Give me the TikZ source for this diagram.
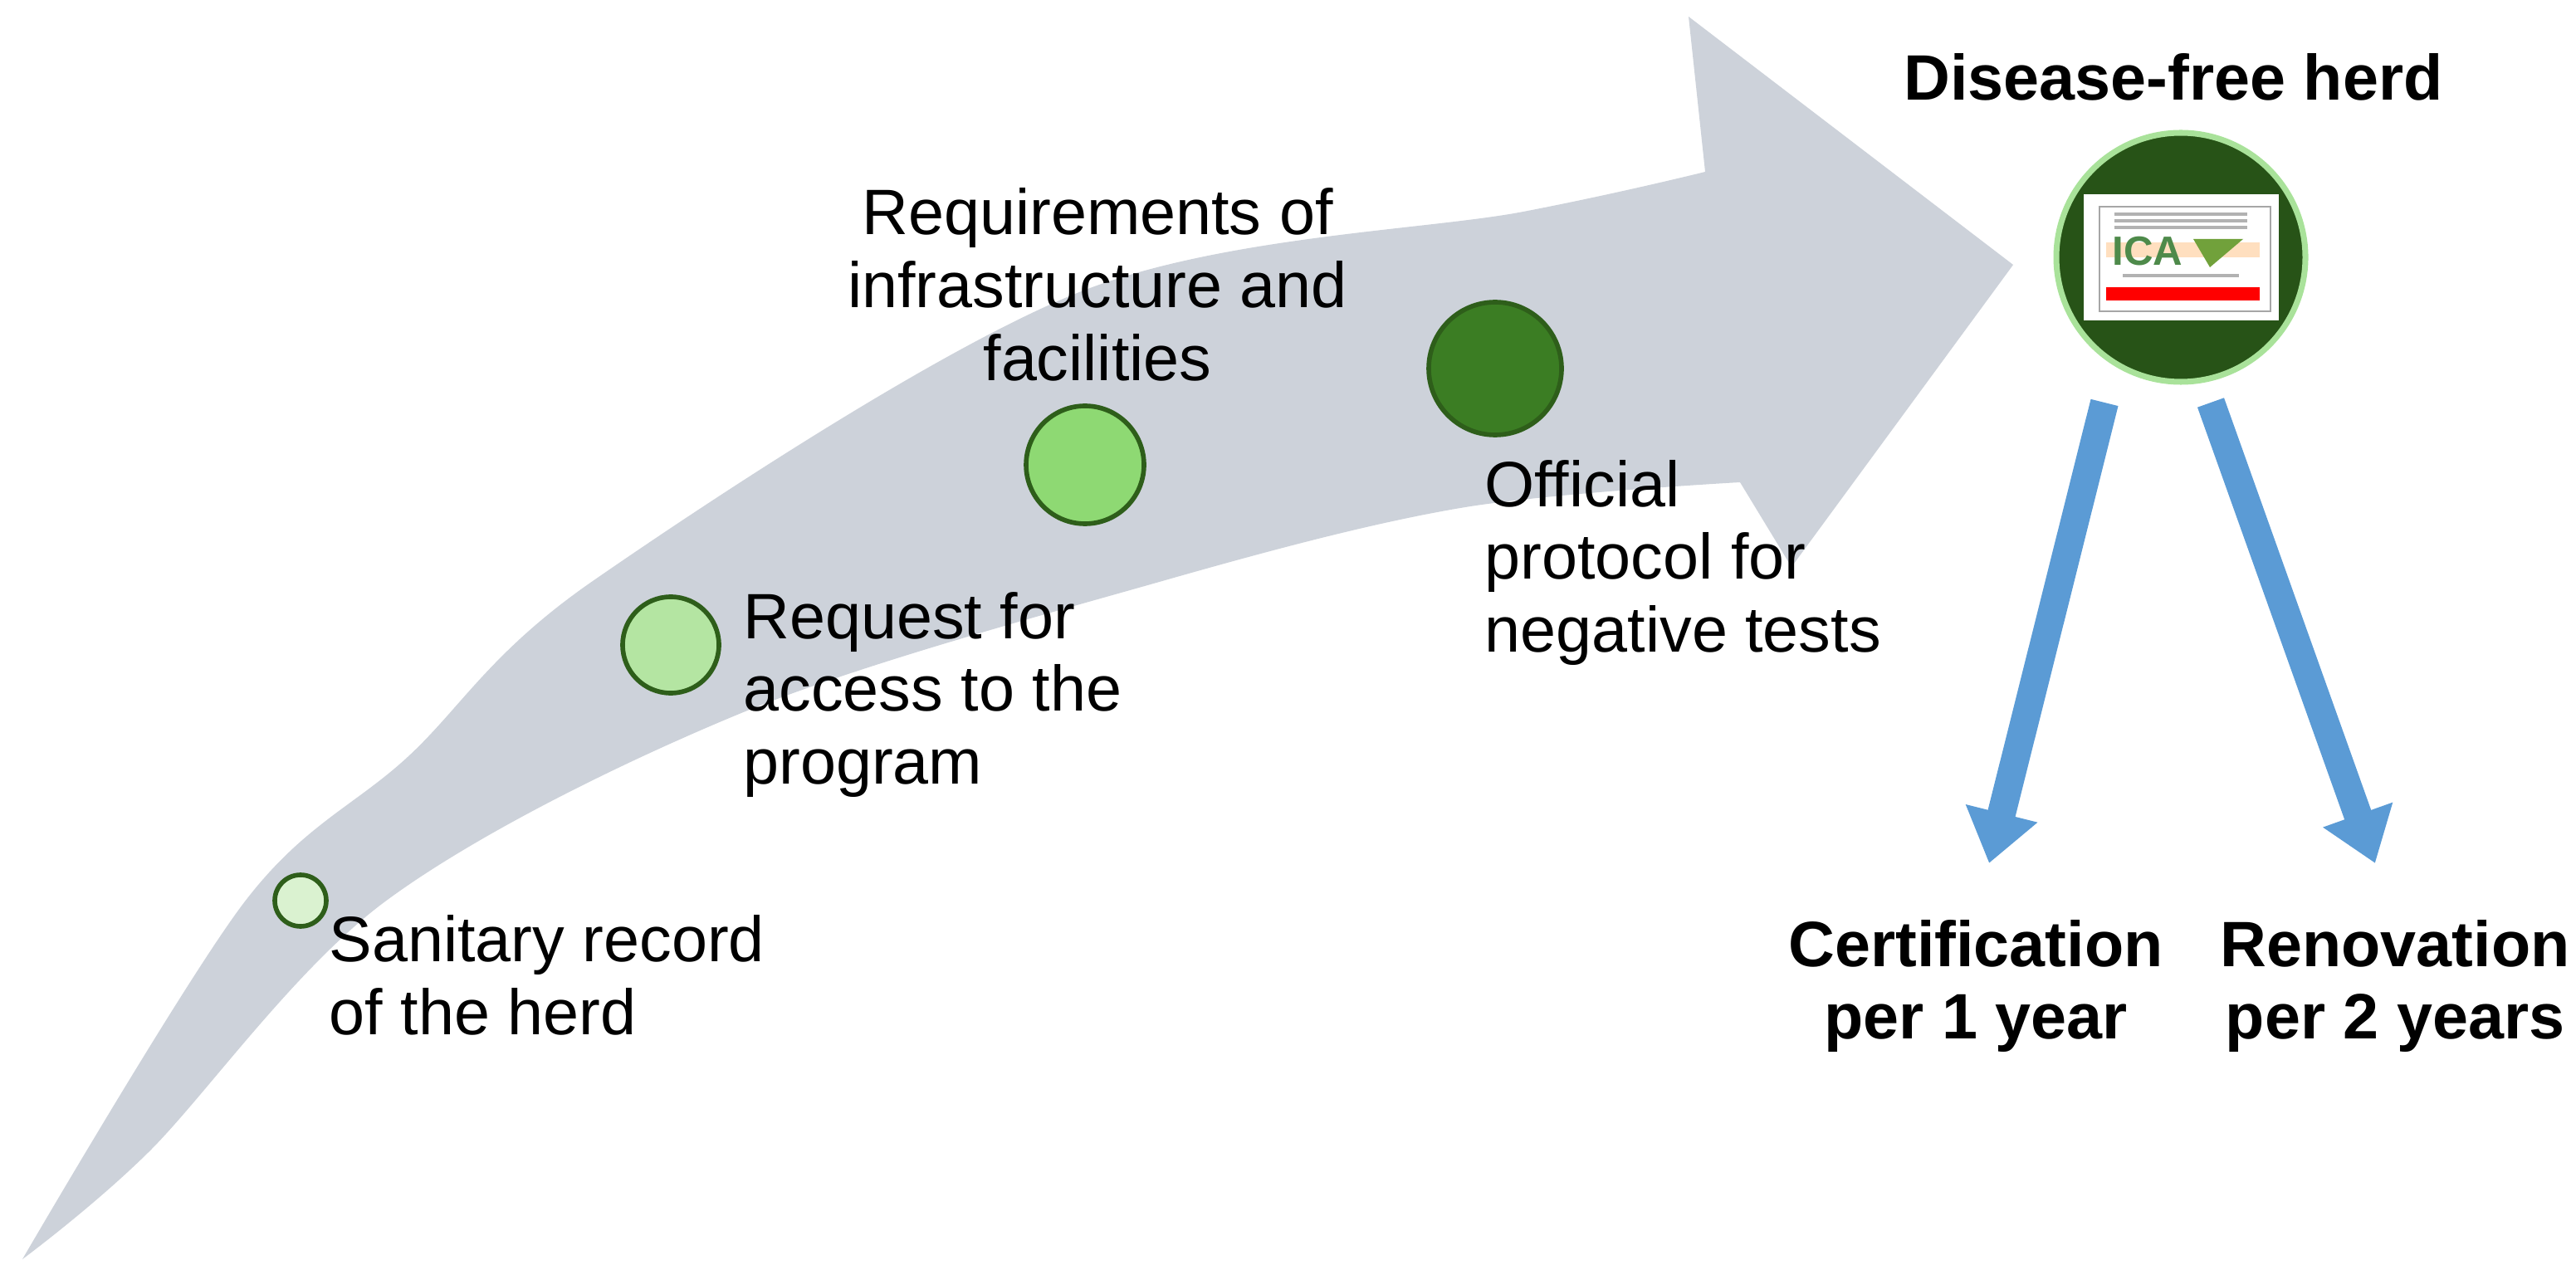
\documentclass[tikz,border=0pt]{standalone}
\usepackage{fontspec}
\setmainfont{Liberation Sans}
\usetikzlibrary{arrows.meta,positioning,calc}
\definecolor{bandgray}{HTML}{CDD2DA}
\definecolor{stepline}{HTML}{2E5E1A}
\definecolor{stepA}{HTML}{DAF2D0}
\definecolor{stepB}{HTML}{B4E5A2}
\definecolor{stepC}{HTML}{8ED973}
\definecolor{stepD}{HTML}{3B7D23}
\definecolor{certgreen}{HTML}{275317}
\definecolor{certring}{HTML}{A9E29A}
\definecolor{outblue}{HTML}{5B9BD5}
\definecolor{icagreen}{HTML}{4E8A4A}
\tikzset{
  stage/.style={circle, draw=stepline, line width=1.6pt, inner sep=0pt},
  label text/.style={font=\fontsize{22}{25}\selectfont, align=left, inner sep=0pt},
  head text/.style={font=\fontsize{22}{25}\selectfont\bfseries, align=center, inner sep=0pt},
  out arrow/.style={outblue, line width=0.34cm, -{Triangle[length=0.62cm,width=0.85cm]}}
}
\begin{document}
\begin{tikzpicture}
  \useasboundingbox (0,0) rectangle (31.03,15.29);

  % Curved progress band
  \fill[bandgray] plot[smooth, tension=0.55] coordinates {(0.27,0.12) (2.95,4.43) (4.91,6.17) (7.14,8.29) (13.0,11.77) (18.35,12.74) (20.54,13.22)}
    -- (20.34,15.09) -- (24.25,12.10) -- (21.58,8.46) -- (20.96,9.48)
    -- plot[smooth, tension=0.55] coordinates {(20.96,9.48) (17.59,9.17) (14.0,8.29) (8.93,6.70) (4.64,4.43) (1.79,1.41) (0.27,0.12)} -- cycle;

  % Steps
  \node[stage, fill=stepA, minimum size=0.62cm] (sanitary) at (3.62,4.44) {};
  \node[stage, fill=stepB, minimum size=1.16cm] (request) at (8.08,7.52) {};
  \node[stage, fill=stepC, minimum size=1.42cm] (infra) at (13.07,9.69) {};
  \node[stage, fill=stepD, minimum size=1.60cm] (official) at (18.01,10.85) {};

  \node[label text, anchor=west] (sanitarytxt) at (3.96,3.54) {Sanitary record\\of the herd};
  \node[label text, right=0.26cm of request, yshift=-0.6cm] (requesttxt) {Request for\\access to the\\program};
  \node[label text, align=center] (infratxt) at (13.22,11.86) {Requirements of\\infrastructure and\\facilities};
  \node[label text, anchor=west] (officialtxt) at (17.88,8.51) {Official\\protocol for\\negative tests};

  % Certified herd
  \node[circle, fill=certgreen, draw=certring, line width=2pt, minimum size=3.0cm] (cert) at (26.27,12.19) {};
  \node[fill=white, minimum width=2.35cm, minimum height=1.52cm, inner sep=0pt] (certdoc) at (cert) {};
  \draw[gray!70, line width=0.6pt] ($(certdoc.south west)+(0.2,0.12)$) rectangle ($(certdoc.north east)+(-0.1,-0.16)$);
  \foreach \y in {0.52,0.44,0.36} {
    \draw[gray!60, line width=1pt] ($(certdoc.center)+(-0.8,\y)$) -- ($(certdoc.center)+(0.8,\y)$);
  }
  \fill[orange!25] ($(certdoc.center)+(-0.9,0.0)$) rectangle ($(certdoc.center)+(0.95,0.18)$);
  \node[text=icagreen, font=\fontsize{14}{14}\selectfont\bfseries, inner sep=0pt] (icalogo) at ($(certdoc.center)+(-0.4,0.07)$) {ICA};
  \fill[icagreen!80!yellow] ($(certdoc.center)+(0.15,0.22)$) -- ($(certdoc.center)+(0.75,0.22)$) -- ($(certdoc.center)+(0.35,-0.12)$) -- cycle;
  \draw[gray!60, line width=1pt] ($(certdoc.center)+(-0.7,-0.22)$) -- ($(certdoc.center)+(0.7,-0.22)$);
  \fill[red] ($(certdoc.center)+(-0.9,-0.52)$) rectangle ($(certdoc.center)+(0.95,-0.36)$);

  \node[head text] (herdtxt) at (26.18,14.36) {Disease-free herd};

  \coordinate (certfoot) at (23.96,4.89);
  \coordinate (renewfoot) at (28.61,4.89);
  \draw[out arrow] ($(cert.center)+(-0.92,-1.75)$) -- (certfoot);
  \draw[out arrow] ($(cert.center)+(0.36,-1.75)$) -- (renewfoot);

  \node[head text] (certtxt) at (23.80,3.41) {Certification\\per 1 year};
  \node[head text] (renewtxt) at (28.85,3.41) {Renovation\\per 2 years};
\end{tikzpicture}
\end{document}
